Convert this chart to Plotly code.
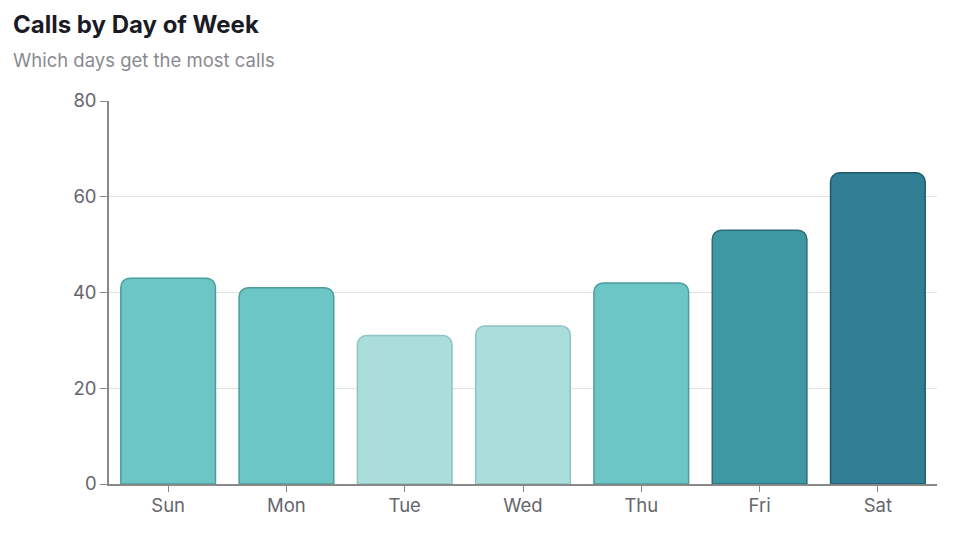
import plotly.graph_objects as go

days = ["Sun", "Mon", "Tue", "Wed", "Thu", "Fri", "Sat"]
calls = [43, 41, 31, 33, 42, 53, 65]


def tier(v):
    # (fill, outline) by call volume
    if v < 35:
        return "#aadedb", "#8cc4c0"
    if v < 50:
        return "#6cc6c6", "#4b9c9c"
    if v < 60:
        return "#3e98a4", "#2b6e78"
    return "#307f94", "#1f5a68"


fills = [tier(v)[0] for v in calls]
lines = [tier(v)[1] for v in calls]

fig = go.Figure(
    go.Bar(
        x=days, y=calls,
        marker=dict(color=fills, line=dict(color=lines, width=1.5)),
        hovertemplate="%{x}: %{y} calls<extra></extra>",
    )
)

axis_font = dict(family="Inter, sans-serif", size=18.5, color="#66666c")

# page body has an 8px margin, so the figure is shrunk by that much
W, H = 972, 540
L, R, T, B = 101, 43, 93, 64
ph = H - T - B
pw = W - L - R

fig.add_annotation(
    text="<b>Calls by Day of Week</b>", xref="paper", yref="paper",
    x=-(L - 3) / pw, y=1 + (T - 17) / ph, xanchor="left", yanchor="middle",
    showarrow=False, font=dict(family="Inter, sans-serif", size=24, color="#1b1b25"),
)
fig.add_annotation(
    text="Which days get the most calls", xref="paper", yref="paper",
    x=-(L - 3) / pw, y=1 + (T - 52) / ph, xanchor="left", yanchor="middle",
    showarrow=False, font=dict(family="Inter, sans-serif", size=18.5, color="#8a8a90"),
)

fig.update_layout(
    width=W, height=H,
    margin=dict(l=L, r=R, t=T, b=B),
    paper_bgcolor="white", plot_bgcolor="white",
    bargap=0.2, barcornerradius=9,
    showlegend=False,
    xaxis=dict(
        tickfont=axis_font, showline=True, linecolor="#888888", linewidth=1.5,
        ticks="outside", ticklen=6, tickcolor="#888888", showgrid=False,
        ticklabelstandoff=-2,
    ),
    yaxis=dict(
        range=[0, 80], dtick=20, tickfont=axis_font,
        showline=True, linecolor="#888888", linewidth=1.5,
        ticks="outside", ticklen=7, tickcolor="#888888",
        gridcolor="#e2e2e2", gridwidth=1, zeroline=False,
    ),
)

fig.write_html("out.html")
